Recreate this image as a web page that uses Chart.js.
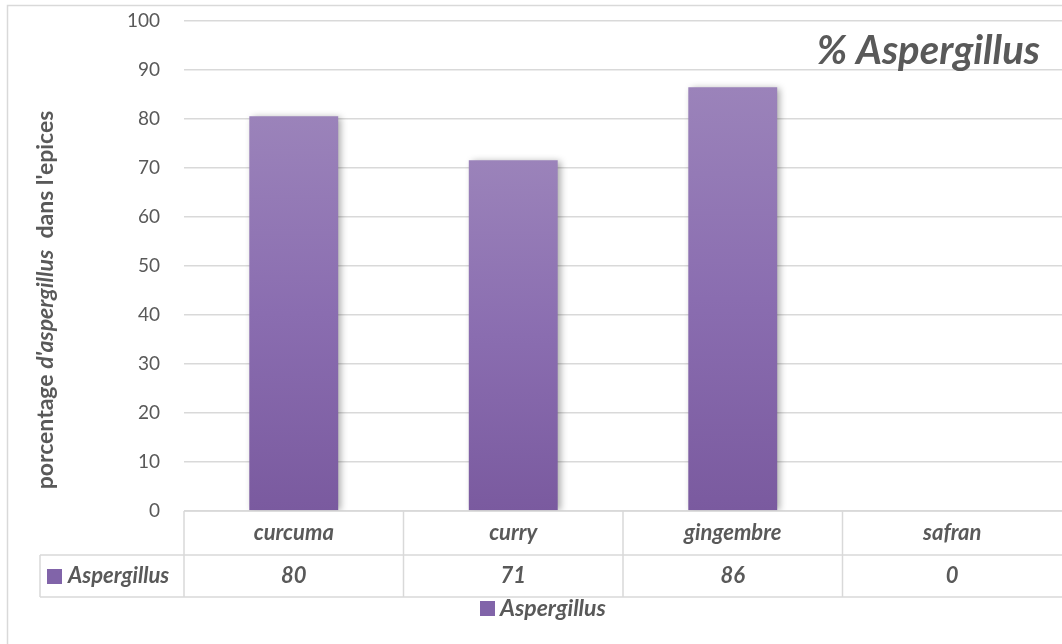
<!DOCTYPE html>
<html><head><meta charset="utf-8">
<script src="https://cdn.jsdelivr.net/npm/chart.js@4.4.1/dist/chart.umd.min.js"></script>
<style>html,body{margin:0;padding:0;background:#fff;overflow:hidden}#wrap{width:1062px;height:644px;position:relative}</style>
</head><body><div id="wrap"><canvas id="c"></canvas></div>
<script>
const categories = ['curcuma', 'curry', 'gingembre', 'safran'];
const aspergillus = [80.5, 71.5, 86.4, 0];
const tableLabels = ['80', '71', '86', '0'];
const seriesName = 'Aspergillus';
const chartTitle = '% Aspergillus';
const yTitleParts = [['porcentage ', false], ["d'aspergillus", true], ["  dans l'epices", false]];

const FONT = 'Lato, "Open Sans", sans-serif';
const TXT = '#595959';
const GRID = '#d9d9d9';
const SOLID = '#8164a9';

function barGradient(c) {
  const chart = c.chart;
  if (!chart.chartArea || c.raw === undefined) return SOLID;
  const y = chart.scales.y;
  const top = y.getPixelForValue(c.raw), bot = y.getPixelForValue(0);
  if (!(bot - top > 1)) return SOLID;
  const g = chart.ctx.createLinearGradient(0, top, 0, bot);
  g.addColorStop(0, '#9b83ba');
  g.addColorStop(0.5, '#8a6db0');
  g.addColorStop(1, '#7a5a9f');
  return g;
}

const deco = {
  id: 'deco',
  beforeDatasetsDraw(chart) {
    const c = chart.ctx; c.save();
    c.shadowColor = 'rgba(0,0,0,0.35)'; c.shadowBlur = 7; c.shadowOffsetX = 3; c.shadowOffsetY = 1;
  },
  afterDatasetsDraw(chart) { chart.ctx.restore(); },
  afterDraw(chart) {
    const c = chart.ctx, a = chart.chartArea, x = chart.scales.x;
    c.save();
    c.strokeStyle = GRID; c.lineWidth = 1.5;
    c.beginPath(); c.moveTo(7.5, 644); c.lineTo(7.5, 5.5); c.lineTo(1062, 5.5); c.stroke();
    const n = categories.length, cw = a.width / n;
    const r0 = a.bottom, r1 = a.bottom + 44, r2 = a.bottom + 86, leftRow = 40;
    c.beginPath();
    c.moveTo(a.left, r0); c.lineTo(a.right, r0);
    c.moveTo(leftRow, r1); c.lineTo(a.right, r1);
    c.moveTo(leftRow, r2); c.lineTo(a.right, r2);
    c.moveTo(leftRow, r1); c.lineTo(leftRow, r2);
    for (let i = 0; i < n; i++) { const xl = x.getPixelForValue(i) - cw / 2; c.moveTo(xl, r0); c.lineTo(xl, r2); }
    c.stroke();
    c.fillStyle = TXT; c.font = 'italic bold 22px ' + FONT; c.textAlign = 'center'; c.textBaseline = 'middle';
    for (let i = 0; i < n; i++) {
      const cx = x.getPixelForValue(i);
      c.fillText(categories[i], cx, (r0 + r1) / 2);
      c.fillText(tableLabels[i], cx, (r1 + r2) / 2);
    }
    c.fillStyle = SOLID; c.fillRect(47, (r1 + r2) / 2 - 7, 15, 15);
    c.fillStyle = TXT; c.textAlign = 'left';
    c.fillText(seriesName, 68, (r1 + r2) / 2);
    // legend
    c.fillStyle = SOLID; c.fillRect(480, r2 + 4, 15, 15);
    c.fillStyle = TXT; c.font = 'italic bold 23px ' + FONT;
    c.fillText(seriesName, 500, r2 + 12);
    // chart title
    c.font = 'italic bold 40px ' + FONT; c.textAlign = 'right'; c.textBaseline = 'alphabetic';
    c.fillText(chartTitle, 1040, 64);
    // y title
    c.translate(46, 300); c.rotate(-Math.PI / 2);
    const fonts = yTitleParts.map(p => (p[1] ? 'italic bold 23px ' : 'bold 23px ') + FONT);
    let total = 0; const ws = yTitleParts.map((p, i) => { c.font = fonts[i]; const w = c.measureText(p[0]).width; total += w; return w; });
    let px = -total / 2; c.textAlign = 'left'; c.textBaseline = 'middle';
    yTitleParts.forEach((p, i) => { c.font = fonts[i]; c.fillText(p[0], px, 0); px += ws[i]; });
    c.restore();
  }
};

new Chart(document.getElementById('c'), {
  type: 'bar',
  data: { labels: categories, datasets: [{ label: seriesName, data: aspergillus, backgroundColor: barGradient, borderWidth: 0, categoryPercentage: 1, barPercentage: 0.405 }] },
  options: {
    responsive: true, maintainAspectRatio: false, animation: false,
    layout: { padding: { top: 20.5, right: 0, bottom: 0, left: 0 } },
    scales: {
      x: { display: true, ticks: { display: false }, grid: { display: false, drawTicks: false }, border: { display: false },
           afterFit(s) { s.height = 133; } },
      y: { min: 0, max: 100, ticks: { stepSize: 10, color: TXT, font: { family: FONT, size: 19 }, padding: 0 },
           grid: { color: GRID, lineWidth: 1.5, drawTicks: true, tickLength: 24, tickColor: 'rgba(0,0,0,0)' }, border: { display: false },
           afterFit(s) { s.width = 184; } }
    },
    plugins: { legend: { display: false }, tooltip: { enabled: false } }
  },
  plugins: [deco]
});
</script></body></html>
